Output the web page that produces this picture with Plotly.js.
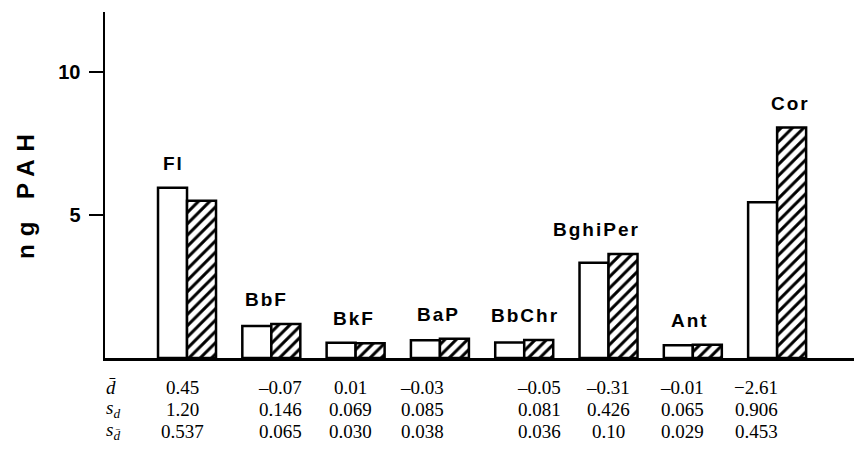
<!DOCTYPE html>
<html>
<head>
<meta charset="utf-8">
<script src="https://cdn.plot.ly/plotly-3.0.1.min.js"></script>
<style>html,body{margin:0;padding:0;background:#fff;}</style>
</head>
<body>
<div id="chart" style="width:854px;height:459px;"></div>
<script>
// ---- data ----
const categories = ["Fl", "BbF", "BkF", "BaP", "BbChr", "BghiPer", "Ant", "Cor"];
const seriesA = [5.95, 1.12, 0.53, 0.62, 0.54, 3.33, 0.45, 5.45];   // open bars
const seriesB = [5.50, 1.19, 0.52, 0.67, 0.63, 3.64, 0.46, 8.06];   // hatched bars
const rowLabels = ["<i>d\u0304</i>", "<i>s</i><sub><i>d</i></sub>", "<i>s</i><sub><i>d\u0304</i></sub>"];
const dBar = ["0.45", "\u20130.07", "0.01", "\u20130.03", "\u20130.05", "\u20130.31", "\u20130.01", "\u22122.61"];
const sD   = ["1.20", "0.146", "0.069", "0.085", "0.081", "0.426", "0.065", "0.906"];
const sDbar= ["0.537", "0.065", "0.030", "0.038", "0.036", "0.10", "0.029", "0.453"];
const yTicks = [5, 10];

// ---- layout helpers (pixel geometry of the figure) ----
const W = 854, H = 459, ML = 105, MR = 0, MT = 12, MB = 101;
const PW = W - ML - MR, PH = H - MT - MB;
const px2paperX = px => (px - ML) / PW;
const px2paperY = py => (H - MB - py) / PH;
const tableColPx = [182, 280, 350, 422, 539, 608, 682, 756];
const tableRowPx = [387, 409, 431];
const labelXShift = [-14, -5, -2, -1, 1, -12, -3, 13];

const traces = [
  {
    type: "bar", x: categories, y: seriesA,
    marker: {color: "white", line: {color: "black", width: 2.5}},
    hoverinfo: "x+y", showlegend: false
  },
  {
    type: "bar", x: categories, y: seriesB,
    marker: {color: "white", line: {color: "black", width: 2.5},
             pattern: {shape: "/", fgcolor: "black", bgcolor: "white", size: 8, solidity: 0.38}},
    hoverinfo: "x+y", showlegend: false
  }
];

const annotations = [];
// category labels above each pair
categories.forEach((c, i) => {
  annotations.push({
    x: c, y: Math.max(seriesA[i], seriesB[i]), xref: "x", yref: "y",
    text: '<span style="letter-spacing:2px">' + c + '</span>',
    showarrow: false, xanchor: "center", yanchor: "middle",
    xshift: labelXShift[i], yshift: 24,
    font: {family: "Liberation Sans, Arial, sans-serif", size: 19, weight: "bold", color: "black"}
  });
});
// table below
const rows = [dBar, sD, sDbar];
rows.forEach((row, r) => {
  annotations.push({
    x: px2paperX(104), y: px2paperY(tableRowPx[r]), xref: "paper", yref: "paper",
    text: rowLabels[r], showarrow: false, xanchor: "left", yanchor: "middle",
    font: {family: "Liberation Serif, Times New Roman, serif", size: 19, color: "black"}
  });
  row.forEach((v, i) => {
    annotations.push({
      x: px2paperX(tableColPx[i]), y: px2paperY(tableRowPx[r]), xref: "paper", yref: "paper",
      text: v, showarrow: false, xanchor: "center", yanchor: "middle",
      font: {family: "Liberation Serif, Times New Roman, serif", size: 19, color: "black"}
    });
  });
});
// y axis title
annotations.push({
  x: px2paperX(25), y: px2paperY(193), xref: "paper", yref: "paper",
  text: '<span style="letter-spacing:8px">ng PAH</span>', textangle: -90,
  showarrow: false, xanchor: "center", yanchor: "middle",
  font: {family: "Liberation Sans, Arial, sans-serif", size: 24, weight: "bold", color: "black"}
});

const layout = {
  width: W, height: H,
  margin: {l: ML, r: MR, t: MT, b: MB, pad: 0},
  paper_bgcolor: "white", plot_bgcolor: "white",
  barmode: "group", bargap: 0.312, bargroupgap: 0,
  xaxis: {
    type: "category", range: [-0.973, 7.912],
    showticklabels: false, ticks: "", showgrid: false, zeroline: false,
    showline: true, linecolor: "black", linewidth: 2.5, fixedrange: true
  },
  yaxis: {
    range: [0, 12.1], tickvals: yTicks, ticktext: yTicks.map(String),
    ticks: "outside", ticklen: 14, tickwidth: 2, tickcolor: "black",
    showgrid: false, zeroline: false,
    showline: true, linecolor: "black", linewidth: 2.5,
    tickfont: {family: "Liberation Sans, Arial, sans-serif", size: 20, weight: "bold", color: "black"},
    ticklabelstandoff: 4, fixedrange: true
  },
  annotations: annotations,
  showlegend: false
};

Plotly.newPlot("chart", traces, layout, {displayModeBar: false, staticPlot: true});
</script>
</body>
</html>
